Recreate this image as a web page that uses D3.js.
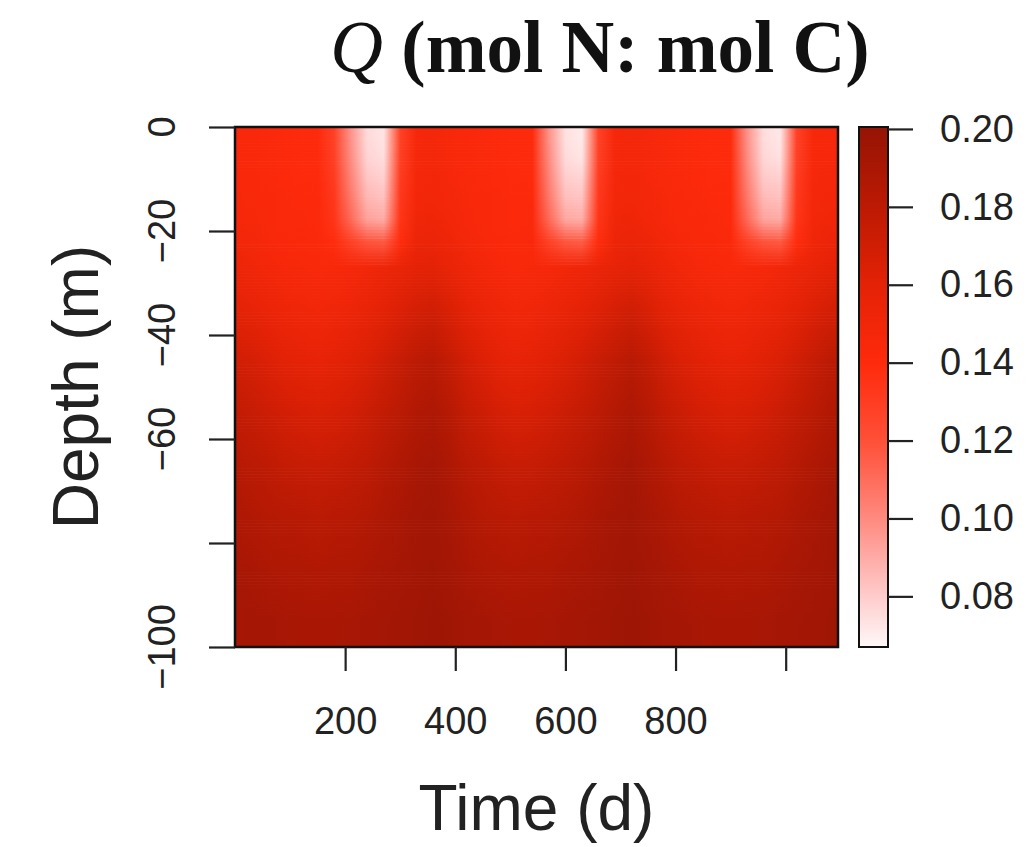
<!DOCTYPE html>
<html>
<head>
<meta charset="utf-8">
<script src="https://cdn.jsdelivr.net/npm/d3@7"></script>
<style>
  body { margin: 0; background: #fff; }
  svg { display: block; }
  .tick text { font-family: "Liberation Sans", Arial, sans-serif; }
</style>
</head>
<body>
<div id="svg"></div>
<script>
// time (d) of each model column
var timeDays = [0, 30, 60, 90, 120, 150, 180, 210, 240, 270, 300, 330, 360, 390, 420, 450, 480, 510,
    540, 570, 600, 630, 660, 690, 720, 750, 780, 810, 840, 870, 900, 930, 960, 990, 1020, 1050, 1080];

// depth (m) layer boundaries, surface to bottom
var depthEdges = [0, -4, -8, -12, -16, -20, -24, -30, -40, -50, -60, -70, -80, -90, -100];

// Q (mol N : mol C), one row per depth layer, one value per time column
var qRows = [
    [.145,.144,.143,.142,.141,.141,.128,.098,.076,.073,.128,.147,.148,.146,.144,.143,.142,.141,.141,.098,.074,.071,.128,.147,.148,.147,.145,.143,.142,.141,.141,.098,.075,.072,.128,.146,.147],
    [.145,.144,.143,.142,.141,.141,.129,.100,.078,.075,.129,.147,.148,.146,.144,.143,.142,.141,.141,.100,.076,.073,.129,.147,.148,.147,.145,.143,.142,.141,.141,.100,.077,.074,.129,.146,.147],
    [.145,.144,.143,.142,.141,.141,.131,.103,.082,.079,.131,.148,.149,.147,.145,.143,.142,.141,.141,.103,.080,.078,.131,.148,.149,.147,.145,.143,.142,.141,.141,.103,.081,.079,.131,.147,.148],
    [.146,.145,.144,.143,.142,.142,.133,.107,.087,.084,.133,.149,.150,.148,.146,.144,.143,.142,.142,.107,.085,.083,.133,.149,.150,.148,.146,.144,.143,.142,.142,.107,.086,.084,.133,.148,.149],
    [.147,.146,.145,.143,.143,.142,.135,.112,.094,.091,.135,.151,.152,.150,.147,.145,.143,.142,.143,.112,.092,.090,.135,.151,.152,.150,.147,.145,.144,.143,.142,.112,.093,.091,.135,.149,.151],
    [.149,.148,.146,.144,.144,.143,.139,.128,.119,.117,.139,.154,.155,.152,.148,.146,.144,.143,.144,.128,.118,.116,.139,.153,.155,.153,.149,.147,.145,.144,.143,.128,.119,.117,.139,.151,.154],
    [.153,.151,.149,.147,.146,.145,.146,.147,.150,.153,.156,.159,.160,.156,.152,.149,.147,.145,.146,.147,.150,.152,.155,.158,.160,.157,.153,.150,.147,.146,.145,.146,.147,.150,.153,.156,.159],
    [.160,.158,.155,.152,.151,.150,.151,.153,.156,.160,.164,.168,.170,.165,.159,.155,.152,.150,.151,.153,.156,.159,.163,.167,.170,.166,.160,.156,.153,.151,.150,.151,.153,.156,.160,.164,.168],
    [.170,.168,.164,.161,.159,.158,.159,.162,.165,.170,.175,.180,.182,.176,.169,.164,.160,.158,.159,.162,.165,.169,.174,.178,.182,.177,.170,.165,.162,.159,.158,.159,.162,.165,.170,.175,.180],
    [.177,.175,.172,.169,.167,.166,.167,.169,.173,.177,.181,.186,.188,.183,.176,.172,.168,.166,.167,.169,.173,.176,.180,.185,.188,.184,.177,.173,.169,.167,.166,.167,.169,.173,.177,.181,.186],
    [.183,.181,.179,.176,.175,.174,.175,.177,.179,.183,.187,.190,.192,.188,.182,.179,.176,.174,.175,.177,.179,.182,.186,.189,.192,.188,.183,.179,.177,.175,.174,.175,.177,.179,.183,.187,.190],
    [.188,.186,.184,.183,.182,.181,.182,.183,.185,.188,.190,.193,.194,.191,.187,.184,.182,.181,.182,.183,.185,.187,.190,.192,.194,.191,.188,.185,.183,.182,.181,.182,.183,.185,.188,.190,.193],
    [.191,.190,.188,.187,.187,.186,.187,.187,.189,.191,.192,.194,.195,.193,.190,.188,.187,.186,.187,.187,.189,.190,.192,.194,.195,.193,.191,.189,.187,.187,.186,.187,.187,.189,.191,.192,.194],
    [.193,.192,.192,.191,.190,.190,.190,.191,.192,.193,.194,.195,.196,.195,.193,.192,.191,.190,.190,.191,.192,.193,.194,.195,.196,.195,.193,.192,.191,.190,.190,.190,.191,.192,.193,.194,.195]
];

// colour key
var qRange = [0.067, 0.2005];
var qStops = [0.067, 0.08, 0.10, 0.12, 0.14, 0.16, 0.18, 0.2005];
var qColors = ["#fff8f8", "#ffcccc", "#ff8a80", "#ff5038", "#ff2a0c", "#e42206", "#bc1a04", "#961405"];

// ticks
var xTicks = [200, 400, 600, 800, 1000];
var xTickLabels = ["200", "400", "600", "800", ""];
var yTicks = [0, -20, -40, -60, -80, -100];
var yTickLabels = ["0", "\u221220", "\u221240", "\u221260", "", "\u2212100"];
var keyTicks = [0.08, 0.10, 0.12, 0.14, 0.16, 0.18, 0.20];
var keyTickLabels = ["0.08", "0.10", "0.12", "0.14", "0.16", "0.18", "0.20"];

var width = 1026,
    height = 847;

var plot = { left: 235, right: 838, top: 127, bottom: 647 };
var key = { left: 859, right: 888 };

var svg = d3.select("#svg").append("svg")
    .attr("width", width)
    .attr("height", height);

svg.append("rect")
    .attr("width", width)
    .attr("height", height)
    .attr("fill", "#fff");

var x = d3.scaleLinear()
    .domain([0, 1095])
    .range([plot.left, plot.right]);

var y = d3.scaleLinear()
    .domain([-100, 0])
    .range([plot.bottom, plot.top]);

var color = d3.scaleLinear()
    .domain(qStops)
    .range(qColors)
    .clamp(true);

var defs = svg.append("defs");
defs.append("clipPath").attr("id", "plotclip")
    .append("rect")
    .attr("x", plot.left).attr("y", plot.top)
    .attr("width", plot.right - plot.left)
    .attr("height", plot.bottom - plot.top);

// one horizontal gradient per depth layer, stops at the time columns
var last = timeDays.length - 1;
var gx1 = x(timeDays[0]), gx2 = x(timeDays[last]);
qRows.forEach(function (row, r) {
    var grad = defs.append("linearGradient")
        .attr("id", "row" + r)
        .attr("gradientUnits", "userSpaceOnUse")
        .attr("x1", gx1).attr("x2", gx2)
        .attr("y1", 0).attr("y2", 0);
    grad.selectAll("stop")
        .data(row)
        .enter().append("stop")
        .attr("offset", function (v, i) { return (x(timeDays[i]) - gx1) / (gx2 - gx1); })
        .attr("stop-color", function (v) { return color(v); });
});

// layer centres in pixels
var rowMid = qRows.map(function (row, r) {
    return (y(depthEdges[r]) + y(depthEdges[r + 1])) / 2;
});

// shading strips: each strip shows layer r blended toward layer r + 1
var strips = [];
strips.push({ y0: plot.top, y1: rowMid[0], r: 0, a: 0 });
for (var r = 0; r < qRows.length - 1; r++) {
    var n = Math.max(2, Math.round((rowMid[r + 1] - rowMid[r]) / 3));
    var h = (rowMid[r + 1] - rowMid[r]) / n;
    for (var j = 0; j < n; j++) {
        strips.push({ y0: rowMid[r] + j * h, y1: rowMid[r] + (j + 1) * h, r: r, a: (j + 0.5) / n });
    }
}
strips.push({ y0: rowMid[qRows.length - 1], y1: plot.bottom, r: qRows.length - 1, a: 0 });

var heat = svg.append("g").attr("clip-path", "url(#plotclip)");

var strip = heat.selectAll("g.strip")
    .data(strips)
    .enter().append("g")
    .attr("class", "strip");

strip.append("rect")
    .attr("x", plot.left)
    .attr("width", plot.right - plot.left)
    .attr("y", function (d) { return d.y0; })
    .attr("height", function (d) { return d.y1 - d.y0 + 0.6; })
    .attr("fill", function (d) { return "url(#row" + d.r + ")"; });

strip.filter(function (d) { return d.a > 0; })
    .append("rect")
    .attr("x", plot.left)
    .attr("width", plot.right - plot.left)
    .attr("y", function (d) { return d.y0; })
    .attr("height", function (d) { return d.y1 - d.y0 + 0.6; })
    .attr("fill", function (d) { return "url(#row" + (d.r + 1) + ")"; })
    .attr("fill-opacity", function (d) { return d.a; });

svg.append("rect")
    .attr("x", plot.left).attr("y", plot.top)
    .attr("width", plot.right - plot.left)
    .attr("height", plot.bottom - plot.top)
    .attr("fill", "none")
    .attr("stroke", "#111")
    .attr("stroke-width", 2.5);

// x axis
var xAxis = svg.append("g")
    .attr("transform", "translate(0," + plot.bottom + ")")
    .call(d3.axisBottom(x)
        .tickValues(xTicks)
        .tickSize(24)
        .tickPadding(36)
        .tickFormat(function (d, i) { return xTickLabels[i]; }));
xAxis.select(".domain").remove();
xAxis.selectAll(".tick line").attr("stroke", "#222").attr("stroke-width", 2.2);
xAxis.selectAll(".tick text")
    .attr("fill", "#222")
    .style("font-size", "38px");

// y axis, labels turned like R's default
var yAxis = svg.append("g")
    .attr("transform", "translate(" + plot.left + ",0)")
    .call(d3.axisLeft(y)
        .tickValues(yTicks)
        .tickSize(26)
        .tickFormat(""));
yAxis.select(".domain").remove();
yAxis.selectAll(".tick line").attr("stroke", "#222").attr("stroke-width", 2.2);

svg.append("g")
    .selectAll("text")
    .data(yTicks)
    .enter().append("text")
    .attr("transform", function (d) { return "translate(175," + y(d) + ") rotate(-90)"; })
    .attr("text-anchor", "middle")
    .attr("fill", "#222")
    .style("font-family", "'Liberation Sans', Arial, sans-serif")
    .style("font-size", "38px")
    .text(function (d, i) { return yTickLabels[i]; });

// colour key
var k = d3.scaleLinear()
    .domain(qRange)
    .range([plot.bottom, plot.top]);

var steps = d3.range(0, 260);
var stepH = (plot.bottom - plot.top) / steps.length;
svg.append("g")
    .selectAll("rect")
    .data(steps)
    .enter().append("rect")
    .attr("x", key.left)
    .attr("width", key.right - key.left)
    .attr("y", function (s) { return plot.bottom - (s + 1) * stepH; })
    .attr("height", stepH + 0.5)
    .attr("fill", function (s) {
        return color(k.invert(plot.bottom - (s + 0.5) * stepH));
    });

svg.append("rect")
    .attr("x", key.left).attr("y", plot.top)
    .attr("width", key.right - key.left)
    .attr("height", plot.bottom - plot.top)
    .attr("fill", "none")
    .attr("stroke", "#111")
    .attr("stroke-width", 2);

var kAxis = svg.append("g")
    .attr("transform", "translate(" + key.right + ",0)")
    .call(d3.axisRight(k)
        .tickValues(keyTicks)
        .tickSize(25)
        .tickPadding(27)
        .tickFormat(function (d, i) { return keyTickLabels[i]; }));
kAxis.select(".domain").remove();
kAxis.selectAll(".tick line").attr("stroke", "#222").attr("stroke-width", 2.2);
kAxis.selectAll(".tick text")
    .attr("fill", "#222")
    .style("font-size", "38px");

// titles
var title = svg.append("text")
    .attr("x", 600)
    .attr("y", 72)
    .attr("text-anchor", "middle")
    .style("font-family", "'Liberation Serif', 'Times New Roman', serif")
    .style("font-size", "73px")
    .attr("fill", "#111");
title.append("tspan")
    .style("font-style", "italic")
    .text("Q");
title.append("tspan")
    .style("font-weight", "bold")
    .text(" (mol N: mol C)");

svg.append("text")
    .attr("x", (plot.left + plot.right) / 2)
    .attr("y", 830)
    .attr("text-anchor", "middle")
    .attr("fill", "#222")
    .style("font-family", "'Liberation Sans', Arial, sans-serif")
    .style("font-size", "64px")
    .text("Time (d)");

svg.append("text")
    .attr("transform", "translate(98," + (plot.top + plot.bottom) / 2 + ") rotate(-90)")
    .attr("text-anchor", "middle")
    .attr("fill", "#222")
    .style("font-family", "'Liberation Sans', Arial, sans-serif")
    .style("font-size", "64px")
    .text("Depth (m)");
</script>
</body>
</html>
